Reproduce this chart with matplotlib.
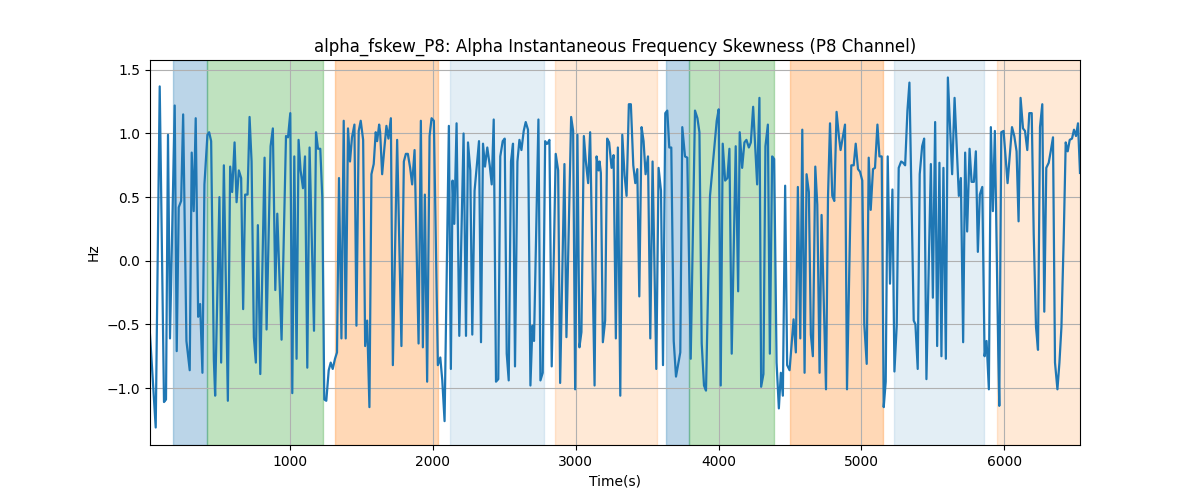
import matplotlib
matplotlib.use("Agg")
import matplotlib.pyplot as plt

# time (s) and skewness (Hz)
t = [20, 60, 88, 118, 132, 146, 160, 193, 207, 221, 238, 252, 275, 298, 312, 326, 340, 357, 371, 387,
     401, 422, 434, 448, 467, 476, 506,
     518, 537, 565, 581, 595, 612, 626, 642, 658, 672, 686, 703, 717, 731, 747, 761, 775, 792, 822, 836,
     864, 880, 897, 911, 941, 972, 986, 1002, 1016, 1030, 1046,
     1060, 1074, 1091, 1105, 1121, 1137, 1168, 1182, 1196, 1212, 1226, 1240, 1254, 1271, 1285, 1299, 1315,
     1329, 1343, 1360, 1376, 1390, 1406, 1420, 1434, 1451, 1465, 1481, 1495, 1512, 1526, 1540, 1556, 1570, 1586,
     1600, 1610, 1624, 1631, 1645, 1661, 1675, 1689, 1706, 1720, 1750, 1780, 1797, 1811, 1825, 1841, 1855,
     1872, 1900, 1916, 1930, 1944, 1960, 1977, 1991, 2007, 2035, 2052, 2066, 2082, 2112, 2126,
     2138, 2150, 2166, 2185, 2215, 2232, 2246, 2262, 2276, 2292, 2323, 2337, 2351, 2365, 2381, 2398, 2412,
     2426, 2442, 2458, 2472, 2489, 2503, 2517, 2531, 2547, 2561, 2575, 2592, 2606, 2620, 2636, 2650, 2666,
     2683, 2697, 2708, 2739, 2753, 2769, 2786, 2795, 2802, 2816, 2832, 2860, 2877, 2891, 2921, 2935, 2968,
     2982, 2996, 3012, 3026, 3040, 3057, 3071, 3087, 3101, 3132, 3146, 3160, 3167, 3176, 3190, 3206,
     3220, 3234, 3251, 3265, 3281, 3295, 3312, 3326, 3342, 3356, 3372, 3386, 3403, 3417, 3431, 3445, 3461,
     3475, 3489, 3506, 3522, 3538, 3564, 3580, 3597, 3611, 3627, 3641, 3655, 3669, 3686, 3702, 3732, 3746,
     3765, 3781, 3805, 3835, 3852, 3866, 3882, 3898, 3912, 3940, 3973, 3987, 4001, 4015, 4029, 4046, 4062,
     4076, 4092, 4120, 4137, 4148, 4165, 4181, 4195, 4212, 4226, 4242, 4270, 4286,
     4298, 4314, 4328, 4345, 4359, 4375, 4389, 4406, 4422, 4436, 4450, 4466, 4480, 4497, 4525, 4541, 4555,
     4572, 4586, 4602, 4616, 4632, 4646, 4660, 4677, 4691, 4707, 4721, 4752, 4766, 4780, 4796, 4810, 4826,
     4843, 4854, 4885, 4899, 4929, 4946, 4960, 4976, 4990, 5006, 5020, 5037, 5051, 5065, 5081, 5095, 5112,
     5126, 5142, 5156, 5170, 5184, 5200, 5217, 5231, 5247, 5261, 5278, 5292, 5306, 5322, 5336, 5366,
     5378, 5394, 5408, 5425, 5439, 5455, 5486, 5500, 5516, 5530, 5546, 5560, 5574, 5591, 5605, 5635, 5652,
     5682, 5696, 5712, 5726, 5740, 5757, 5771, 5787, 5801, 5815, 5829, 5846, 5862, 5876, 5892, 5906,
     5920, 5934, 5958, 5965, 5979, 5995, 6023, 6054, 6070, 6086, 6100, 6114, 6131, 6145, 6161, 6175, 6192,
     6206, 6222, 6236, 6250, 6266, 6280, 6294, 6311, 6325, 6341, 6355, 6372, 6386, 6400, 6416, 6430, 6444,
     6458, 6474, 6488, 6502, 6516, 6530]

hz = [-0.58, -1.31, 1.37, -1.11, -1.09, 0.99, -0.61, 1.22, -0.71, 0.42, 0.47, 1.15, -0.63, -0.86, 0.85, 0.39, 1.12, -0.44, -0.34, -0.88,
      0.60, 0.99, 1.01, 0.94, -0.78, -1.06, 0.50,
      -0.80, 0.75, -1.10, 0.74, 0.54, 0.93, 0.46, 0.71, 0.65, -0.38, 0.52, 0.52, 1.13, 0.78, -0.60, -0.80, 0.28, -0.89, 0.81, -0.54,
      0.90, 1.04, -0.23, 0.37, -0.62, 0.98, 0.97, 1.16, -1.04, 0.82, -0.77,
      0.95, 0.71, 0.57, 0.82, -0.84, 0.89, -0.55, 1.01, 0.88, 0.88, 0.50, -1.09, -1.10, -0.86, -0.80, -0.85, -0.77,
      -0.72, 0.65, -0.61, 1.10, -0.61, 1.04, 0.78, 0.97, 1.07, -0.51, 1.02, 1.10, 0.95, -0.67, -0.47, -1.15, 0.68, 0.76,
      1.01, 0.94, 1.07, 1.01, 0.68, 0.89, 1.06, 0.96, 1.12, -0.82, 0.95, -0.67, 0.78, 0.84, 0.84, 0.73, 0.60,
      0.87, -0.65, 1.10, -0.68, 0.52, -0.95, 0.98, 1.12, 1.10, -0.82, -0.76, -0.94, -1.26, 1.06, -0.85,
      0.63, 0.29, 1.08, -0.59, 1.00, -0.59, 0.93, 0.71, -0.58, 0.55, 0.94, -0.64, 0.92, 0.74, 0.89, 0.75, 0.60,
      1.11, -0.95, -0.93, 0.82, 0.94, 0.96, -0.73, -0.94, 0.78, 0.92, -0.83, 0.78, 0.95, 0.87, 1.02, 1.09, 1.03,
      -0.98, -0.51, -0.63, 1.11, -0.94, -0.88, 0.94, 0.92, 0.92, 0.95, -0.83, 0.84, 0.71, -0.96, 0.76, -0.60, 1.13,
      1.02, -1.01, 0.99, -0.68, -0.56, 0.98, 0.78, 0.61, 1.01, -0.98, 0.82, 0.71, 0.78, 0.69, -0.64, -0.47,
      0.96, 0.93, 0.73, 0.83, -0.61, 0.89, -1.06, 0.99, 0.67, 0.51, 1.23, 1.23, 0.75, 0.61, 0.72, -0.28, 1.05,
      0.94, 0.68, 0.82, -0.61, 0.78, -0.85, 0.73, 0.55, -0.82, 1.16, 1.18, 0.89, 0.89, -0.63, -0.91, -0.72, 1.05,
      0.82, 0.81, -0.77, 1.18, 1.12, 1.01, -0.65, -0.98, -1.02, 0.51, 0.92, 1.10, 1.19, -0.98, 0.92, 0.63, 0.65,
      0.88, -0.73, 0.90, -0.24, 1.01, 0.73, 0.93, 0.95, 0.89, 0.93, 1.21, 0.60, 1.28,
      -0.99, -0.89, 0.90, 1.07, -0.73, 0.82, 0.80, -0.80, -1.16, -0.88, -1.06, 0.59, -0.82, -0.86, -0.46, -0.72, 0.58,
      -0.61, 1.03, -0.88, 0.68, 0.54, -0.58, -0.75, 0.74, 0.44, -0.88, 0.36, -1.01, 0.50, 1.08, 0.51, 0.47, 1.17,
      0.97, 0.87, 1.07, -1.01, 0.75, 0.75, 0.92, 0.72, 0.70, 0.63, -0.50, -0.81, 0.81, 0.40, 0.72, 0.73, 1.07,
      0.82, 0.82, -1.15, -0.95, 0.82, -0.18, 0.56, -0.87, -0.51, 0.73, 0.78, 0.77, 0.75, 1.18, 1.40, -0.47,
      -0.50, -0.85, 0.68, 0.90, 0.96, -0.93, 0.76, -0.29, 1.09, -0.67, 0.77, -0.75, 0.73, -0.77, 1.44, 0.68, 1.28,
      0.51, 0.65, -0.64, 0.85, 0.23, 0.88, 0.62, 0.62, 0.86, 0.07, 0.52, 0.58, -0.75, -0.63, -1.01, 1.05,
      0.39, 1.02, -0.73, -1.14, 1.01, 1.02, 0.61, 1.05, 0.98, 0.86, 0.31, 1.28, 1.04, 1.02, 0.87, 1.16, 1.16,
      0.21, -0.52, -0.70, 1.05, 1.23, -0.40, 0.73, 0.77, 0.86, 0.97, -0.80, -1.01, -0.80, -0.52, 0.18, 0.93, 0.86,
      0.95, 0.96, 1.03, 0.98, 1.08, 0.69]

# shaded segments: start, end, colour, alpha
span_start = [184, 418, 1318, 2117, 2854, 3632, 3796, 4502, 5231, 5946]
span_end = [418, 1233, 2038, 2781, 3569, 3796, 4387, 5152, 5860, 6560]
span_color = ['tab:blue', 'tab:green', 'tab:orange', 'tab:blue', 'tab:orange',
              'tab:blue', 'tab:green', 'tab:orange', 'tab:blue', 'tab:orange']
span_alpha = [0.3, 0.3, 0.3, 0.12, 0.17, 0.3, 0.3, 0.3, 0.12, 0.17]

fig, ax = plt.subplots(figsize=(12, 5), dpi=100)

for s, e, c, a in zip(span_start, span_end, span_color, span_alpha):
    ax.axvspan(s, e, color=c, alpha=a)

ax.plot(t, hz, color='tab:blue', linewidth=1.6)

ax.set_xlim(t[0], t[-1])
ax.grid(True)
ax.set_title('alpha_fskew_P8: Alpha Instantaneous Frequency Skewness (P8 Channel)')
ax.set_xlabel('Time(s)')
ax.set_ylabel('Hz')

fig.savefig('out.png')
